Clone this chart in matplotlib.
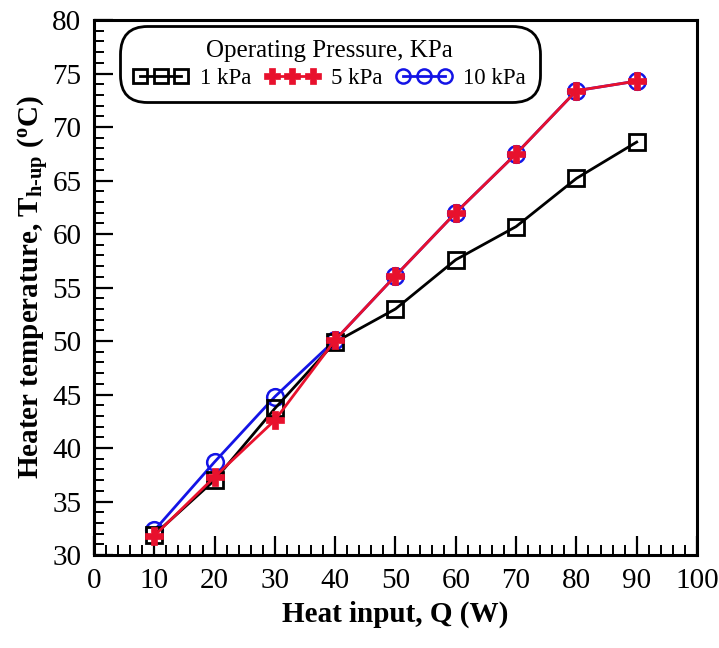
import matplotlib
matplotlib.use("Agg")
from matplotlib import pyplot as plt
from matplotlib.ticker import MultipleLocator

# data
heat_input = [10, 20, 30, 40, 50, 60, 70, 80, 90]
t_1kpa = [31.9, 37.0, 43.7, 49.9, 53.0, 57.6, 60.7, 65.2, 68.6]
t_5kpa = [31.8, 37.3, 42.6, 50.1, 56.1, 62.0, 67.5, 73.4, 74.3]
t_10kpa = [32.3, 38.7, 44.8, 50.1, 56.1, 62.0, 67.5, 73.4, 74.3]

plt.rcParams['font.family'] = ['Liberation Serif', 'DejaVu Serif']
plt.rcParams['mathtext.fontset'] = 'custom'
plt.rcParams['mathtext.rm'] = 'Liberation Serif:bold'
plt.rcParams['mathtext.it'] = 'Liberation Serif:bold'
plt.rcParams['mathtext.bf'] = 'Liberation Serif:bold'

fig = plt.figure(figsize=(7.19, 6.48), dpi=100)
ax = fig.add_axes([0.1307, 0.1435, 0.8387, 0.8255])

red = '#e8112d'
blue = '#1414e6'

h10, = ax.plot(heat_input, t_10kpa, color=blue, lw=2, marker='o', ms=12,
               mfc='none', mec=blue, mew=1.8, label='10 kPa', zorder=3)
h1, = ax.plot(heat_input, t_1kpa, color='black', lw=2, marker='s', ms=12,
              mfc='none', mec='black', mew=2, label='1 kPa', zorder=4)
h5, = ax.plot(heat_input, t_5kpa, color=red, lw=2, marker='P', ms=13,
              mfc=red, mec=red, mew=0.5, label='5 kPa', zorder=5)

ax.set_xlim(0, 100)
ax.set_ylim(30, 80)
ax.xaxis.set_major_locator(MultipleLocator(10))
ax.xaxis.set_minor_locator(MultipleLocator(2))
ax.yaxis.set_major_locator(MultipleLocator(5))
ax.yaxis.set_minor_locator(MultipleLocator(1))
ax.tick_params(which='major', direction='in', length=14, width=1.6,
               labelsize=21, pad=9, top=False, right=False)
ax.tick_params(which='minor', direction='in', length=7, width=1.4,
               top=False, right=False)
for s in ax.spines.values():
    s.set_linewidth(2.2)

ax.set_xlabel('Heat input, Q (W)', fontsize=21, fontweight='bold', labelpad=5)
ax.set_ylabel(r'Heater temperature, T$_{\mathrm{h\text{-}up}}$ ($^{\mathrm{o}}$C)',
              fontsize=21, fontweight='bold', labelpad=1)

leg = ax.legend(handles=[h1, h5, h10], title='Operating Pressure, KPa',
                loc='upper left', bbox_to_anchor=(0.05, 0.98),
                borderaxespad=0, ncol=3, numpoints=3, fontsize=16.5,
                title_fontsize=18, handlelength=2.4, handletextpad=0.5,
                columnspacing=0.6, borderpad=0.4, labelspacing=0.25,
                fancybox=True, framealpha=1, edgecolor='black', markerscale=0.85)
leg.get_frame().set_linewidth(2)
leg.get_frame().set_boxstyle('round', pad=0.2, rounding_size=1.2)

fig.savefig('out.png', dpi=100)
